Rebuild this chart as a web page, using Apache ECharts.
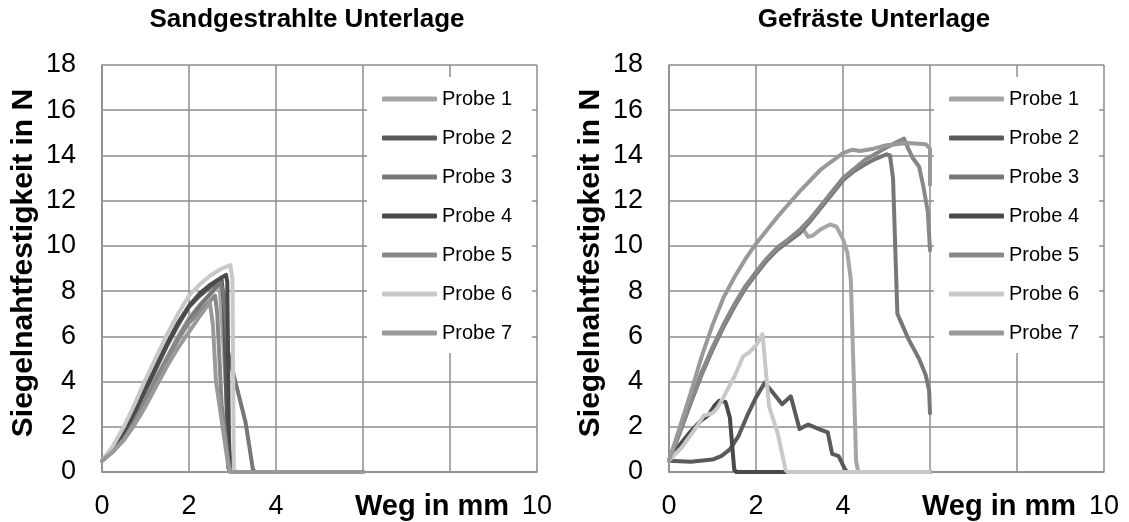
<!DOCTYPE html>
<html>
<head>
<meta charset="utf-8">
<script src="https://cdn.jsdelivr.net/npm/echarts@6/dist/echarts.min.js"></script>
<style>
  html, body { margin: 0; padding: 0; background: #fff; }
  #chart { width: 1129px; height: 522px; }
</style>
</head>
<body>
<div id="chart"></div>
<script>
// Siegelnahtfestigkeit (N) über Weg (mm)
const probeNames = ["Probe 1", "Probe 2", "Probe 3", "Probe 4", "Probe 5", "Probe 6", "Probe 7"];
const probeColors = ["#a5a5a5", "#5a5a5a", "#777777", "#4a4a4a", "#888888", "#c8c8c8", "#999999"];
const xLabelsShown = ["0", "2", "4", "10"];

// Sandgestrahlte Unterlage
const sand1 = [[0,0.5],[0.25,0.95],[0.5,1.5],[0.75,2.3],[1,3.2],[1.25,4.2],[1.5,5.1],[1.75,6.0],[2,6.8],[2.25,7.4],[2.5,7.9],[2.7,8.3],[2.78,6.0],[2.9,2.0],[2.97,0.1],[3.05,0],[6,0]];
const sand2 = [[0,0.5],[0.25,1.0],[0.5,1.7],[0.75,2.6],[1,3.6],[1.25,4.6],[1.5,5.6],[1.75,6.5],[2,7.3],[2.25,7.8],[2.5,8.2],[2.75,8.5],[2.8,7.5],[2.9,0.2],[2.95,0],[6,0]];
const sand3 = [[0,0.5],[0.25,0.95],[0.5,1.5],[0.75,2.25],[1,3.15],[1.25,4.1],[1.5,5.0],[1.75,5.9],[2,6.7],[2.25,7.35],[2.5,7.9],[2.72,8.4],[2.8,7.9],[2.9,5.3],[3.0,4.5],[3.3,2.2],[3.47,0.1],[3.52,0],[6,0]];
const sand4 = [[0,0.5],[0.25,1.05],[0.5,1.75],[0.75,2.7],[1,3.7],[1.25,4.7],[1.5,5.7],[1.75,6.6],[2,7.35],[2.25,7.9],[2.5,8.3],[2.75,8.6],[2.85,8.72],[2.88,8.4],[2.92,1.0],[2.98,0],[6,0]];
const sand5 = [[0,0.5],[0.25,0.9],[0.5,1.45],[0.75,2.2],[1,3.1],[1.25,4.05],[1.5,5.0],[1.75,5.85],[2,6.6],[2.25,7.1],[2.5,7.6],[2.6,7.8],[2.65,7.0],[2.75,3.0],[2.9,0.5],[2.95,0],[6,0]];
const sand6 = [[0,0.5],[0.25,1.15],[0.5,2.0],[0.75,3.0],[1,4.1],[1.25,5.1],[1.5,6.1],[1.75,7.0],[2,7.8],[2.25,8.3],[2.5,8.7],[2.75,9.0],[2.95,9.15],[3.0,8.5],[3.03,0.1],[3.1,0],[6,0]];
const sand7 = [[0,0.5],[0.25,0.9],[0.5,1.4],[0.75,2.1],[1,2.9],[1.25,3.8],[1.5,4.7],[1.75,5.5],[2,6.2],[2.25,6.9],[2.48,7.5],[2.55,6.5],[2.62,4.0],[2.75,2.3],[2.9,0.3],[2.95,0],[6,0]];

// Gefräste Unterlage
const gef1 = [[0,0.5],[0.25,1.8],[0.5,3.1],[0.75,4.4],[1,5.5],[1.25,6.5],[1.5,7.4],[1.75,8.2],[2,8.8],[2.25,9.4],[2.5,9.85],[2.75,10.2],[3,10.6],[3.1,10.7],[3.2,10.4],[3.3,10.45],[3.5,10.75],[3.7,10.95],[3.85,10.85],[4,10.3],[4.1,9.7],[4.18,8.5],[4.25,4.0],[4.3,0.5],[4.35,0],[6,0]];
const gef2 = [[0,0.5],[0.5,0.45],[1,0.55],[1.2,0.7],[1.4,1.0],[1.6,1.6],[1.8,2.5],[2,3.3],[2.2,3.95],[2.35,3.6],[2.6,3.0],[2.8,3.35],[3,1.9],[3.2,2.1],[3.45,1.9],[3.65,1.75],[3.75,0.8],[3.9,0.7],[4.05,0.1],[4.1,0],[6,0]];
const gef3 = [[0,0.5],[0.25,1.75],[0.5,3.05],[0.75,4.3],[1,5.4],[1.25,6.4],[1.5,7.3],[1.75,8.1],[2,8.75],[2.25,9.35],[2.5,9.85],[2.75,10.2],[3,10.55],[3.25,11.1],[3.5,11.7],[3.75,12.3],[4,12.9],[4.25,13.3],[4.5,13.6],[4.75,13.85],[5,14.05],[5.08,14.0],[5.15,13.0],[5.2,10.0],[5.25,7.0],[5.5,5.9],[5.75,5.0],[5.9,4.3],[5.98,3.6],[6,2.6]];
const gef4 = [[0,0.5],[0.25,1.2],[0.5,1.8],[0.75,2.3],[0.9,2.5],[1.05,2.95],[1.15,3.15],[1.3,3.1],[1.4,2.4],[1.5,0.1],[1.55,0],[6,0]];
const gef5 = [[0,0.5],[0.25,1.8],[0.5,3.1],[0.75,4.4],[1,5.5],[1.25,6.5],[1.5,7.4],[1.75,8.2],[2,8.85],[2.25,9.45],[2.5,9.95],[2.75,10.3],[3,10.7],[3.25,11.2],[3.5,11.8],[3.75,12.4],[4,13.0],[4.5,13.8],[5,14.35],[5.25,14.6],[5.4,14.75],[5.5,14.3],[5.6,13.9],[5.75,13.5],[5.85,12.6],[5.95,11.5],[6,9.8]];
const gef6 = [[0,0.5],[0.3,1.1],[0.6,1.9],[0.8,2.5],[1,2.6],[1.1,2.8],[1.25,3.3],[1.5,4.2],[1.7,5.1],[1.85,5.3],[2,5.6],[2.15,6.1],[2.3,2.9],[2.5,1.7],[2.68,0.1],[2.72,0],[6,0]];
const gef7 = [[0,0.5],[0.25,2.0],[0.5,3.5],[0.75,5.1],[1,6.5],[1.25,7.7],[1.5,8.6],[1.75,9.4],[2,10.1],[2.5,11.3],[3,12.4],[3.5,13.4],[4,14.1],[4.2,14.25],[4.4,14.2],[4.7,14.3],[5,14.45],[5.5,14.55],[5.9,14.5],[6,14.3],[6,12.7]];

const sandSeries = [sand1, sand2, sand3, sand4, sand5, sand6, sand7];
const gefSeries = [gef1, gef2, gef3, gef4, gef5, gef6, gef7];

const FONT = '"Liberation Sans", Arial, sans-serif';
const gridColor = "#8c8c8c";

function makeSeries(list, idx) {
  return list.map((data, i) => ({
    name: probeNames[i],
    type: "line",
    xAxisIndex: idx,
    yAxisIndex: idx,
    data: data,
    symbol: "none",
    showSymbol: false,
    animation: false,
    itemStyle: { color: probeColors[i] },
    lineStyle: { color: probeColors[i], width: 4, cap: "round", join: "round" },
  }));
}

function xAxis(idx) {
  return {
    type: "value",
    gridIndex: idx,
    min: 0,
    max: 10,
    interval: 2,
    axisLine: { lineStyle: { color: gridColor, width: 1.5 } },
    axisTick: { show: false },
    splitLine: { lineStyle: { color: gridColor, width: 1.5 } },
    axisLabel: {
      fontSize: 27,
      fontFamily: FONT,
      color: "#000",
      margin: 21,
      formatter: (v) => (xLabelsShown.includes(String(v)) ? String(v) : ""),
    },
  };
}

function yAxis(idx) {
  return {
    type: "value",
    gridIndex: idx,
    min: 0,
    max: 18,
    interval: 2,
    axisLine: { show: true, lineStyle: { color: gridColor, width: 1.5 } },
    axisTick: { show: false },
    splitLine: { lineStyle: { color: gridColor, width: 1.5 } },
    axisLabel: { fontSize: 27, fontFamily: FONT, color: "#000", margin: 26 },
  };
}

// legend: plain thick line as icon, white box over the grid
function legend(left) {
  return {
    data: probeNames.map((n, i) => ({ name: n, itemStyle: { color: probeColors[i] } })),
    orient: "vertical",
    left: left,
    top: 77,
    padding: [12, 20, 10, 15],
    itemGap: 19,
    itemWidth: 55,
    itemHeight: 5,
    icon: "roundRect",
    backgroundColor: "#fff",
    selectedMode: false,
    textStyle: { fontSize: 20, fontFamily: FONT, color: "#000" },
  };
}

function label(text, x, y, size, rotate) {
  return {
    type: "text",
    x: x,
    y: y,
    rotation: rotate ? Math.PI / 2 : 0,
    style: {
      text: text,
      font: "bold " + size + "px " + FONT,
      fill: "#000",
      align: "center",
      verticalAlign: "middle",
    },
  };
}

const shift = 567;
let myChart = echarts.init(document.getElementById("chart"));
myChart.setOption({
  animation: false,
  grid: [
    { left: 102, right: 592, top: 65, bottom: 50 },
    { left: 102 + shift, right: 25, top: 65, bottom: 50 },
  ],
  xAxis: [xAxis(0), xAxis(1)],
  yAxis: [yAxis(0), yAxis(1)],
  legend: [legend(367), legend(367 + shift)],
  graphic: [
    label("Sandgestrahlte Unterlage", 307, 20, 26),
    label("Gefräste Unterlage", 307 + shift, 20, 26),
    label("Siegelnahtfestigkeit in N", 24, 263, 30, true),
    label("Siegelnahtfestigkeit in N", 24 + shift, 263, 30, true),
    label("Weg in mm", 432, 507, 29),
    label("Weg in mm", 432 + shift, 507, 29),
  ],
  series: makeSeries(sandSeries, 0).concat(makeSeries(gefSeries, 1)),
});
</script>
</body>
</html>
